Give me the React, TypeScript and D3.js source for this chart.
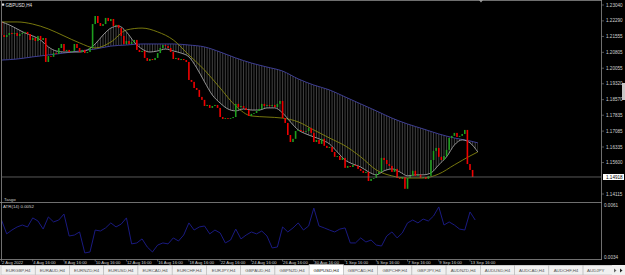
import React, { useEffect, useRef } from 'react';
import * as d3 from 'd3';

// GBPUSD H4, first visible bar 2 Aug 2022 16:00
const firstOpen = 1.2224;
const closes = [
  1.2162, 1.2153, 1.2162, 1.2172, 1.2167, 1.2172, 1.2158, 1.2167, 1.2172, 1.2177,
  1.2167, 1.2139, 1.2148, 1.2134, 1.2158, 1.2139, 1.2148, 1.2035, 1.2063, 1.2059,
  1.2077, 1.2073, 1.2101, 1.2120, 1.2087, 1.2092, 1.2082, 1.2087, 1.2120, 1.2101,
  1.2082, 1.2092, 1.2077, 1.2082, 1.2101, 1.2214, 1.2252, 1.2219, 1.2205, 1.2214,
  1.2243, 1.2228, 1.2238, 1.2205, 1.2210, 1.2195, 1.2158, 1.2120, 1.2134, 1.2120,
  1.2129, 1.2139, 1.2092, 1.2082, 1.2087, 1.2054, 1.2040, 1.2049, 1.2044, 1.2054,
  1.2077, 1.2101, 1.2115, 1.2110, 1.2101, 1.2082, 1.2049, 1.2054, 1.2044, 1.2049,
  1.2044, 1.2035, 1.1950, 1.1941, 1.1912, 1.1903, 1.1870, 1.1856, 1.1827, 1.1832,
  1.1818, 1.1827, 1.1832, 1.1818, 1.1775, 1.1766, 1.1770, 1.1766, 1.1770, 1.1775,
  1.1837, 1.1822, 1.1827, 1.1818, 1.1808, 1.1780, 1.1790, 1.1794, 1.1804, 1.1813,
  1.1837, 1.1827, 1.1832, 1.1827, 1.1832, 1.1822, 1.1837, 1.1851, 1.1770, 1.1747,
  1.1690, 1.1657, 1.1672, 1.1709, 1.1714, 1.1709, 1.1705, 1.1709, 1.1723, 1.1700,
  1.1657, 1.1667, 1.1648, 1.1672, 1.1639, 1.1629, 1.1634, 1.1610, 1.1587, 1.1591,
  1.1572, 1.1582, 1.1535, 1.1544, 1.1539, 1.1549, 1.1544, 1.1530, 1.1521, 1.1511,
  1.1516, 1.1473, 1.1483, 1.1487, 1.1506, 1.1516, 1.1582, 1.1572, 1.1553, 1.1544,
  1.1516, 1.1530, 1.1487, 1.1483, 1.1492, 1.1436, 1.1487, 1.1497, 1.1521, 1.1497,
  1.1502, 1.1487, 1.1492, 1.1483, 1.1497, 1.1572, 1.1615, 1.1629, 1.1587, 1.1572,
  1.1591, 1.1620, 1.1676, 1.1686, 1.1700, 1.1681, 1.1686, 1.1695, 1.1714, 1.1553,
  1.1525, 1.1492,
];

// moving averages (fast: every 3 bars, mid/slow: every 6 bars)
const fastMA = [
  1.2224, 1.2210, 1.2191, 1.2172, 1.2158, 1.2139, 1.2106, 1.2087, 1.2082, 1.2082,
  1.2082, 1.2092, 1.2120, 1.2162, 1.2195, 1.2205, 1.2177, 1.2129, 1.2096, 1.2082,
  1.2087, 1.2096, 1.2087, 1.2077, 1.2059, 1.2007, 1.1941, 1.1879, 1.1841, 1.1813,
  1.1804, 1.1813, 1.1808, 1.1808, 1.1818, 1.1818, 1.1794, 1.1752, 1.1714, 1.1695,
  1.1681, 1.1667, 1.1648, 1.1610, 1.1572, 1.1553, 1.1539, 1.1516, 1.1502, 1.1521,
  1.1530, 1.1516, 1.1497, 1.1502, 1.1502, 1.1511, 1.1549, 1.1587, 1.1643, 1.1667,
  1.1653, 1.1610,
];
const midMA = [
  1.2224, 1.2224, 1.2214, 1.2191, 1.2158, 1.2125, 1.2101, 1.2129, 1.2186, 1.2195,
  1.2177, 1.2139, 1.2068, 1.1997, 1.1912, 1.1827, 1.1780, 1.1775, 1.1770, 1.1752,
  1.1714, 1.1676, 1.1639, 1.1587, 1.1525, 1.1497, 1.1487, 1.1487, 1.1506, 1.1549,
  1.1591, 1.1610,
];
const slowMA = [
  1.2044, 1.2049, 1.2059, 1.2068, 1.2077, 1.2087, 1.2096, 1.2110, 1.2115, 1.2120,
  1.2120, 1.2120, 1.2115, 1.2106, 1.2082, 1.2054, 1.2030, 1.2011, 1.1992, 1.1955,
  1.1926, 1.1903, 1.1870, 1.1837, 1.1804, 1.1770, 1.1742, 1.1719, 1.1695, 1.1676,
  1.1662, 1.1653,
];

// ATR(14), every 2 bars
const atr = [
  0.00532, 0.00460, 0.00480, 0.00496, 0.00506, 0.00496, 0.00543, 0.00527, 0.00485, 0.00548,
  0.00522, 0.00532, 0.00563, 0.00449, 0.00454, 0.00470, 0.00361, 0.00366, 0.00480, 0.00475,
  0.00491, 0.00517, 0.00496, 0.00511, 0.00543, 0.00408, 0.00413, 0.00434, 0.00392, 0.00366,
  0.00402, 0.00413, 0.00408, 0.00439, 0.00423, 0.00454, 0.00517, 0.00480, 0.00496, 0.00501,
  0.00460, 0.00480, 0.00465, 0.00413, 0.00428, 0.00485, 0.00434, 0.00454, 0.00470, 0.00460,
  0.00475, 0.00449, 0.00387, 0.00392, 0.00496, 0.00470, 0.00491, 0.00517, 0.00480, 0.00501,
  0.00594, 0.00501, 0.00491, 0.00480, 0.00470, 0.00485, 0.00491, 0.00413, 0.00413, 0.00439,
  0.00418, 0.00428, 0.00402, 0.00397, 0.00449, 0.00470, 0.00439, 0.00465, 0.00517, 0.00532,
  0.00517, 0.00537, 0.00527, 0.00553, 0.00600, 0.00506, 0.00522, 0.00506, 0.00485, 0.00480,
  0.00574, 0.00532,
];
const atrCurrent = 0.0052;

const priceTicks = [1.2304, 1.2229, 1.21555, 1.20805, 1.20055, 1.1932, 1.1857, 1.17835, 1.17085, 1.16335, 1.156, 1.14115];
const currentPrice = 1.14918;
const atrTicks = [0.0061, 0.0034];
// one label every 12 bars
const timeLabels = [
  '2 Aug 2022', '4 Aug 16:00', '8 Aug 16:00', '10 Aug 16:00', '12 Aug 16:00', '16 Aug 16:00',
  '18 Aug 16:00', '22 Aug 16:00', '24 Aug 16:00', '26 Aug 16:00', '30 Aug 16:00', '1 Sep 16:00',
  '5 Sep 16:00', '7 Sep 16:00', '9 Sep 16:00', '13 Sep 16:00',
];
const tabs = [
  'EURGBP,H4', 'EURAUD,H4', 'EURNZD,H4', 'EURUSD,H4', 'EURCAD,H4', 'EURCHF,H4', 'EURJPY,H4',
  'GBPAUD,H4', 'GBPNZD,H4', 'GBPUSD,H4', 'GBPCAD,H4', 'GBPCHF,H4', 'GBPJPY,H4', 'AUDNZD,H4',
  'AUDUSD,H4', 'AUDCAD,H4', 'AUDCHF,H4', 'AUDJPY',
];
const activeTab = 'GBPUSD,H4';

const App = () => {
  const svgRef = useRef<SVGSVGElement>(null);

  useEffect(() => {
    const width = 625;
    const height = 275;
    const font = 'Liberation Sans, Arial, sans-serif';
    const svg = d3.select(svgRef.current);
    svg.selectAll('*').remove();
    svg.attr('width', width).attr('height', height);

    const x = d3.scaleLinear().domain([0, 180]).range([1.5, 470]);
    const y = d3.scaleLinear().domain([1.14115, 1.2304]).range([194, 5]);
    const yAtr = d3.scaleLinear().domain([0.0034, 0.0061]).range([257, 205]);

    svg.append('rect').attr('width', width).attr('height', 265).attr('fill', '#000');

    const defs = svg.append('defs');
    defs.append('clipPath').attr('id', 'mainClip')
      .append('rect').attr('x', 2).attr('y', 1).attr('width', 599).attr('height', 200);
    defs.append('clipPath').attr('id', 'subClip')
      .append('rect').attr('x', 2).attr('y', 203).attr('width', 599).attr('height', 56);

    const main = svg.append('g').attr('clip-path', 'url(#mainClip)');

    // moving averages
    const fastPts = fastMA.map((v, i) => [x(i * 3), y(v)] as [number, number]);
    const knots6 = [...d3.range(0, 181, 6), 183];
    const midPts = midMA.map((v, i) => [x(knots6[i]), y(v)] as [number, number]);
    const slowPts = slowMA.map((v, i) => [x(knots6[i]), y(v)] as [number, number]);
    const line = d3.line().curve(d3.curveMonotoneX);

    // hatching between fast and slow MA
    const band = line(fastPts) + 'L' + (line(slowPts.slice().reverse()) as string).slice(1) + 'Z';
    defs.append('clipPath').attr('id', 'bandClip').append('path').attr('d', band);
    main.append('g').attr('clip-path', 'url(#bandClip)')
      .selectAll('line')
      .data(d3.range(0, 184))
      .enter()
      .append('line')
      .attr('x1', d => x(d)).attr('x2', d => x(d))
      .attr('y1', 0).attr('y2', 200)
      .attr('stroke', '#6e6e6e')
      .attr('stroke-width', 0.6);

    main.append('path').attr('d', line(slowPts)).attr('fill', 'none')
      .attr('stroke', '#3e3e94').attr('stroke-width', 1);
    main.append('path').attr('d', line(midPts)).attr('fill', 'none')
      .attr('stroke', '#85850f').attr('stroke-width', 0.9);
    main.append('path').attr('d', line(fastPts)).attr('fill', 'none')
      .attr('stroke', '#a2a2a2').attr('stroke-width', 0.9);

    // candles
    const openOf = (i: number) => (i ? closes[i - 1] : firstOpen);
    main.selectAll('.candle')
      .data(closes)
      .enter()
      .append('rect')
      .attr('class', 'candle')
      .attr('x', (_, i) => x(i) - 0.8)
      .attr('width', 1.6)
      .attr('y', (c, i) => y(Math.max(c, openOf(i))))
      .attr('height', (c, i) => Math.max(0.8, Math.abs(y(c) - y(openOf(i)))))
      .attr('fill', (c, i) => (c >= openOf(i) ? '#1e9e1e' : '#f00000'));

    // current price line
    svg.append('line')
      .attr('x1', 2).attr('x2', 601)
      .attr('y1', y(currentPrice)).attr('y2', y(currentPrice))
      .attr('stroke', '#6e6e6e').attr('stroke-width', 0.8);

    // ATR sub window
    const atrLine = d3.line<number>()
      .x((_, i) => x(i * 2))
      .y(d => yAtr(d));
    svg.append('g').attr('clip-path', 'url(#subClip)')
      .append('path').attr('d', atrLine(atr)).attr('fill', 'none')
      .attr('stroke', '#1a1a80').attr('stroke-width', 1);

    // frames
    const frame = svg.append('g').attr('stroke', '#8c8c8c').attr('stroke-width', 0.8).attr('fill', 'none');
    frame.append('line').attr('x1', 0).attr('x2', 602).attr('y1', 0.5).attr('y2', 0.5);
    frame.append('line').attr('x1', 1.5).attr('x2', 1.5).attr('y1', 0).attr('y2', 259.5);
    frame.append('line').attr('x1', 601.5).attr('x2', 601.5).attr('y1', 0).attr('y2', 259.5);
    frame.append('line').attr('x1', 0).attr('x2', 602).attr('y1', 202.5).attr('y2', 202.5);
    frame.append('line').attr('x1', 0).attr('x2', 602).attr('y1', 259.5).attr('y2', 259.5);

    // chart shift marker
    svg.append('path').attr('d', 'M479,0L483,0L481,2.5Z').attr('fill', '#a0a0a0');

    // price axis
    const pa = svg.append('g');
    pa.selectAll('line').data(priceTicks).enter().append('line')
      .attr('x1', 601.5).attr('x2', 604).attr('y1', d => y(d)).attr('y2', d => y(d))
      .attr('stroke', '#8c8c8c').attr('stroke-width', 0.6);
    pa.selectAll('text').data(priceTicks).enter().append('text')
      .attr('x', 606).attr('y', d => y(d) + 1.6)
      .attr('font-family', font).attr('font-size', 4.6).attr('fill', '#d0d0d0')
      .text(d => d3.format('.5f')(d));

    svg.append('rect').attr('x', 603).attr('y', y(currentPrice) - 3).attr('width', 21).attr('height', 6)
      .attr('fill', '#fff');
    svg.append('text').attr('x', 606).attr('y', y(currentPrice) + 1.6)
      .attr('font-family', font).attr('font-size', 4.6).attr('fill', '#000')
      .text(d3.format('.5f')(currentPrice));

    const sa = svg.append('g');
    sa.selectAll('text').data(atrTicks).enter().append('text')
      .attr('x', 604).attr('y', d => yAtr(d) + 1.6)
      .attr('font-family', font).attr('font-size', 4.6).attr('fill', '#d0d0d0')
      .text(d => d3.format('.4f')(d));

    svg.append('rect').attr('x', 622).attr('y', 83).attr('width', 3).attr('height', 17).attr('fill', '#c8c8c8');

    // time axis
    const ta = svg.append('g');
    ta.selectAll('line').data(timeLabels).enter().append('line')
      .attr('x1', (_, i) => x(i * 12)).attr('x2', (_, i) => x(i * 12))
      .attr('y1', 259.5).attr('y2', 261.5)
      .attr('stroke', '#8c8c8c').attr('stroke-width', 0.6);
    ta.selectAll('text').data(timeLabels).enter().append('text')
      .attr('x', (_, i) => x(i * 12) + 0.5).attr('y', 263.6)
      .attr('font-family', font).attr('font-size', 4.2).attr('fill', '#d0d0d0')
      .text(d => d);

    // labels
    svg.append('rect').attr('x', 2).attr('y', 3.5).attr('width', 2.2).attr('height', 2.2).attr('fill', '#e0e0e0');
    svg.append('text').attr('x', 5.5).attr('y', 6.6)
      .attr('font-family', font).attr('font-size', 4.6).attr('fill', '#e0e0e0').text('GBPUSD,H4');
    svg.append('text').attr('x', 4).attr('y', 200.6)
      .attr('font-family', font).attr('font-size', 4.4).attr('fill', '#d0d0d0').text('Tasgo');
    svg.append('text').attr('x', 3).attr('y', 207.6)
      .attr('font-family', font).attr('font-size', 4.4).attr('fill', '#d0d0d0')
      .text(`ATR(14) ${d3.format('.4f')(atrCurrent)}`);

    // tab bar
    svg.append('rect').attr('y', 265).attr('width', width).attr('height', 10).attr('fill', '#f0f0f0');
    const tabW = 34.24;
    const tb = svg.append('g');
    tabs.forEach((t, i) => {
      const active = t === activeTab;
      tb.append('rect')
        .attr('x', 1 + i * tabW).attr('y', active ? 264.5 : 265.5)
        .attr('width', tabW).attr('height', active ? 10.5 : 9.5)
        .attr('fill', active ? '#ffffff' : '#f0f0f0')
        .attr('stroke', '#b8b8b8').attr('stroke-width', 0.6);
      tb.append('text')
        .attr('x', 1 + i * tabW + (i === tabs.length - 1 ? 4 : tabW / 2)).attr('y', 271.6)
        .attr('text-anchor', i === tabs.length - 1 ? 'start' : 'middle')
        .attr('font-family', font).attr('font-size', 4.4).attr('fill', active ? '#222' : '#555')
        .text(t);
    });
    svg.append('rect').attr('x', 612).attr('y', 265).attr('width', 13).attr('height', 10).attr('fill', '#f0f0f0');
    svg.append('path').attr('d', 'M614,268.5L614,272.5L616.5,270.5Z').attr('fill', '#666');
    svg.append('path').attr('d', 'M620,268.5L620,272.5L622.5,270.5Z').attr('fill', '#222');
  }, []);

  return (
    <svg ref={svgRef} style={{ position: 'absolute', left: 0, top: 0, display: 'block' }} />
  );
};

export default App;
